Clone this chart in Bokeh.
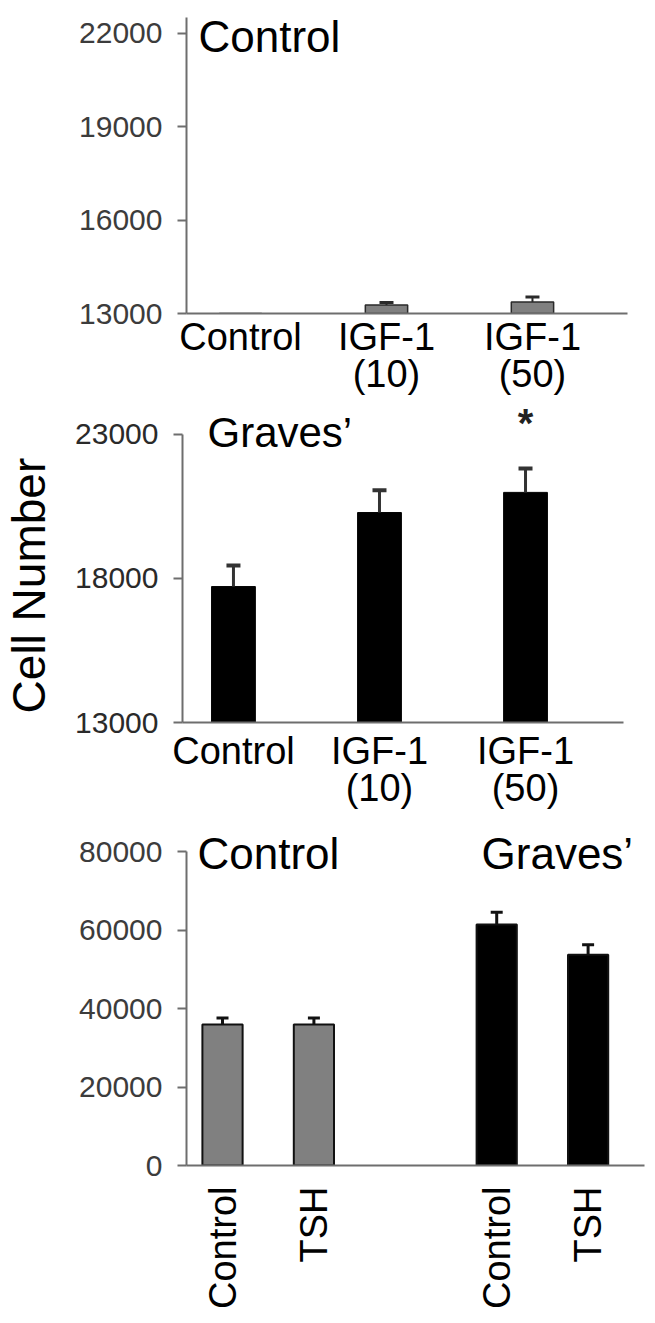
import math
from bokeh.plotting import figure
from bokeh.layouts import column, row
from bokeh.models import Range1d, FixedTicker, Label
from bokeh.core.properties import value
from bokeh.embed import file_html
from bokeh.resources import INLINE

FONT = "Liberation Sans"

# ---------------- data ----------------
igf_labels = ["Control", "IGF-1\n(10)", "IGF-1\n(50)"]
ctrl_means = [12900, 13270, 13370]
ctrl_err = [60, 85, 160]
graves_means = [17720, 20290, 20990]
graves_err = [730, 770, 830]
p1_yticks = [13000, 16000, 19000, 22000]
p2_yticks = [13000, 18000, 23000]

tsh_groups = ["Control", "Graves'"]
tsh_treatments = ["Control", "TSH"]
tsh_means = [35900, 35900, 61400, 53700]
tsh_err = [1660, 1660, 3100, 2550]
p3_yticks = [0, 20000, 40000, 60000, 80000]
y_title = "Cell Number"


def style(p, yticks, ybounds, xticks, xlabels, ylab_color):
    p.xgrid.visible = False
    p.ygrid.visible = False
    p.outline_line_color = None
    p.background_fill_color = "white"
    p.border_fill_color = "white"
    y = p.yaxis[0]
    y.ticker = FixedTicker(ticks=yticks)
    y.bounds = ybounds
    y.axis_line_color = "#6e6e6e"
    y.axis_line_width = 2
    y.major_tick_line_color = "#6e6e6e"
    y.major_tick_line_width = 2
    y.major_tick_out = 9
    y.major_tick_in = 0
    y.minor_tick_line_color = None
    y.major_label_text_font = FONT
    y.major_label_text_font_size = "30px"
    y.major_label_text_color = ylab_color
    y.major_label_standoff = 15
    x = p.xaxis[0]
    x.ticker = FixedTicker(ticks=xticks)
    x.major_label_overrides = {t: lab for t, lab in zip(xticks, xlabels)}
    x.axis_line_color = "#6e6e6e"
    x.axis_line_width = 2
    x.major_tick_line_color = None
    x.major_tick_out = 0
    x.major_tick_in = 0
    x.minor_tick_line_color = None
    x.major_label_text_font = FONT
    x.major_label_text_font_size = "38px"
    x.major_label_text_color = "black"
    x.major_label_text_line_height = 0.9


def error_bars(p, xs, means, errs, color, stem_w, cap_w, cap_size):
    uppers = [m + e for m, e in zip(means, errs)]
    p.segment(x0=xs, y0=means, x1=xs, y1=uppers, line_color=color, line_width=stem_w)
    p.scatter(x=xs, y=uppers, marker="dash", size=cap_size, line_color=color, line_width=cap_w)


# ---------------- panel 1: control IGF-1 ----------------
x1 = list(range(len(igf_labels)))
p1 = figure(frame_width=441, frame_height=302, x_range=Range1d(-0.370, 2.651),
            y_range=Range1d(13000, 22707), output_backend="svg", toolbar_location=None,
            min_border_left=186, min_border_right=19, min_border_top=11, min_border_bottom=86)
p1.vbar(x=x1, top=ctrl_means, bottom=13000, width=0.29, fill_color="#808080",
        line_color="#2a2a2a", line_width=1.5)
error_bars(p1, x1, ctrl_means, ctrl_err, "#2a2a2a", 2, 3, 14)
style(p1, p1_yticks, (13000, 22514), x1, igf_labels, "#3c3c3c")
p1.xaxis[0].major_label_standoff = 2
p1.add_layout(Label(x=-0.288, y=21904, text="Control", text_font=FONT, text_font_size="44px",
                    text_color="black", text_baseline="alphabetic", text_align="left"))

# ---------------- panel 2: Graves' IGF-1 ----------------
x2 = list(range(len(igf_labels)))
p2 = figure(frame_width=441, frame_height=323, x_range=Range1d(-0.349, 2.671),
            y_range=Range1d(13000, 24215), output_backend="svg", toolbar_location=None,
            min_border_left=122, min_border_right=23, min_border_top=0, min_border_bottom=104)
p2.vbar(x=x2, top=graves_means, bottom=13000, width=0.30, fill_color="black",
        line_color="black", line_width=1)
error_bars(p2, x2, graves_means, graves_err, "#333333", 3, 4, 14)
style(p2, p2_yticks, (13000, 23000), x2, igf_labels, "#2a2a2a")
p2.xaxis[0].major_label_standoff = 7
p2.add_layout(Label(x=-0.178, y=23069, text="Graves\u2019", text_font=FONT, text_font_size="42px",
                    text_color="black", text_baseline="alphabetic", text_align="left"))
p2.add_layout(Label(x=x2[2], y=23382, text="*", text_font=FONT, text_font_size="40px",
                    text_font_style="bold", text_color="#222222",
                    text_baseline="alphabetic", text_align="center"))

# y-axis title strip to the left of panel 2
lab = figure(width=60, height=427, x_range=Range1d(0, 60), y_range=Range1d(0, 427),
             output_backend="svg", toolbar_location=None, min_border=0,
             x_axis_location=None, y_axis_location=None)
lab.xgrid.visible = False
lab.ygrid.visible = False
lab.outline_line_color = None
lab.text(x=[28], y=[181], text=[y_title], angle=math.pi / 2, text_align="center",
         text_baseline="middle", text_font=value(FONT), text_font_size=value("46px"),
         text_color="black")

# ---------------- panel 3: TSH ----------------
x3 = [gi * 3 + ti for gi in range(len(tsh_groups)) for ti in range(len(tsh_treatments))]
x3_labels = [t for g in tsh_groups for t in tsh_treatments]
x3_colors = [c for c in ["#808080", "black"] for _ in tsh_treatments]
p3 = figure(frame_width=458, frame_height=339, x_range=Range1d(-0.394, 4.617),
            y_range=Range1d(0, 86370), output_backend="svg", toolbar_location=None,
            min_border_left=186, min_border_right=2, min_border_top=0, min_border_bottom=149)
p3.vbar(x=x3, top=tsh_means, bottom=0, width=0.44, fill_color=x3_colors,
        line_color="#111111", line_width=2)
error_bars(p3, x3, tsh_means, tsh_err, "#111111", 3, 3, 12)
style(p3, p3_yticks, (0, 80000), x3, x3_labels, "#3c3c3c")
p3.xaxis[0].major_label_orientation = math.pi / 2
p3.xaxis[0].major_label_standoff = 21
p3.add_layout(Label(x=-0.274, y=79500, text=tsh_groups[0], text_font=FONT, text_font_size="44px",
                    text_color="black", text_baseline="alphabetic", text_align="left"))
p3.add_layout(Label(x=2.834, y=79500, text="Graves\u2019", text_font=FONT, text_font_size="44px",
                    text_color="black", text_baseline="alphabetic", text_align="left"))

layout = column(p1, row(lab, p2, spacing=0), p3, spacing=0)
open("out.html", "w").write(file_html(layout, INLINE))
